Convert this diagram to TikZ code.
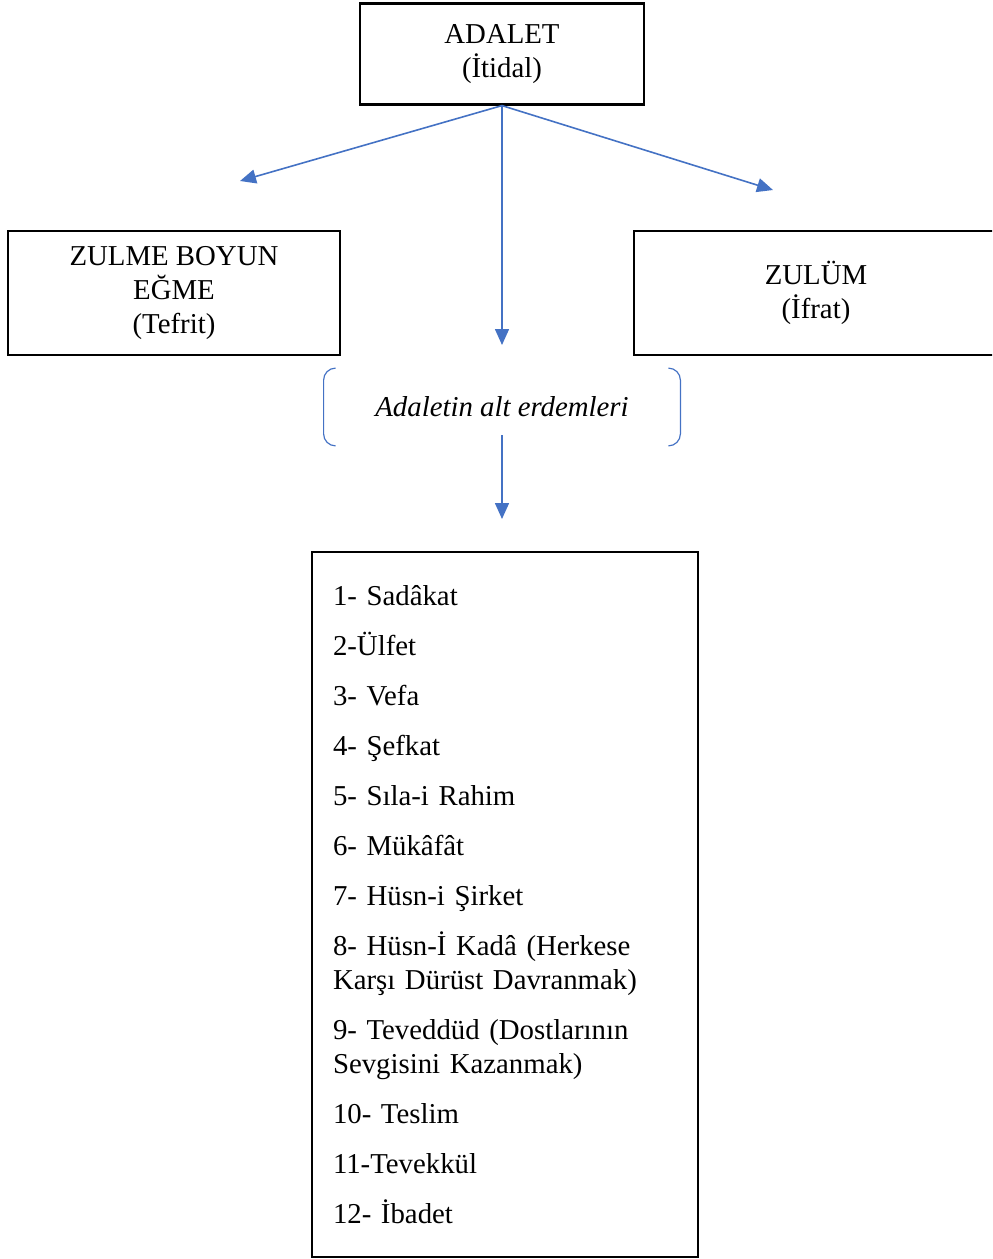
\documentclass[tikz,border=0pt]{standalone}
\usepackage{fontspec}
\setmainfont{Liberation Serif}
\usetikzlibrary{arrows.meta,positioning}
\definecolor{okmavi}{HTML}{4472C4}

\tikzset{
  kutu/.style={draw, line width=1.1pt, align=center, inner sep=0pt,
    font=\fontsize{14.4}{17}\selectfont},
  ok/.style={draw=okmavi, line width=0.8pt, -{Triangle[length=8pt,width=7pt]}},
  parantez/.style={draw=okmavi, line width=0.6pt, rounded corners=6pt}
}

\begin{document}
\begin{tikzpicture}[x=0.5pt, y=-0.5pt]
  \clip (0,0) rectangle (992,1259);

  \node[kutu, minimum width=142pt, minimum height=50.5pt] (adalet) at (502,54)
    {ADALET\\(İtidal)};
  \node[kutu, minimum width=166pt, minimum height=62pt] (tefrit) at (174,293)
    {ZULME BOYUN\\EĞME\\(Tefrit)};
  \node[kutu, minimum width=182pt, minimum height=62pt] (ifrat) at (816,293)
    {ZULÜM\\(İfrat)};
  \node[minimum width=178pt, minimum height=38.5pt, inner sep=0pt,
    font=\fontsize{14.4}{17}\selectfont\itshape] (alt) at (502,407)
    {Adaletin alt erdemleri};
  \node[kutu, align=left, text width=172pt, inner xsep=10.5pt,
    minimum width=193pt, minimum height=352.5pt] (liste) at (505,904.5)
    {1- Sadâkat\\[8pt]
     2-Ülfet\\[8pt]
     3- Vefa\\[8pt]
     4- Şefkat\\[8pt]
     5- Sıla-i Rahim\\[8pt]
     6- Mükâfât\\[8pt]
     7- Hüsn-i Şirket\\[8pt]
     8- Hüsn-İ Kadâ (Herkese\\Karşı Dürüst Davranmak)\\[8pt]
     9- Teveddüd (Dostlarının\\Sevgisini Kazanmak)\\[8pt]
     10- Teslim\\[8pt]
     11-Tevekkül\\[8pt]
     12- İbadet};

  % ok uclari
  \coordinate (sol) at (240,181);
  \coordinate (sag) at (773,190);
  \coordinate (asagi) at (502,345);
  \coordinate (altbas) at (502,435);
  \coordinate (altuc) at (502,519);

  \draw[ok] (adalet.south) -- (sol);
  \draw[ok] (adalet.south) -- (sag);
  \draw[ok] (adalet.south) -- (asagi);
  \draw[ok] (altbas) -- (altuc);

  % parantezler
  \draw[parantez] ([xshift=6pt]alt.north west) -- (alt.north west)
    -- (alt.south west) -- ([xshift=6pt]alt.south west);
  \draw[parantez] ([xshift=-6pt]alt.north east) -- (alt.north east)
    -- (alt.south east) -- ([xshift=-6pt]alt.south east);
\end{tikzpicture}
\end{document}
